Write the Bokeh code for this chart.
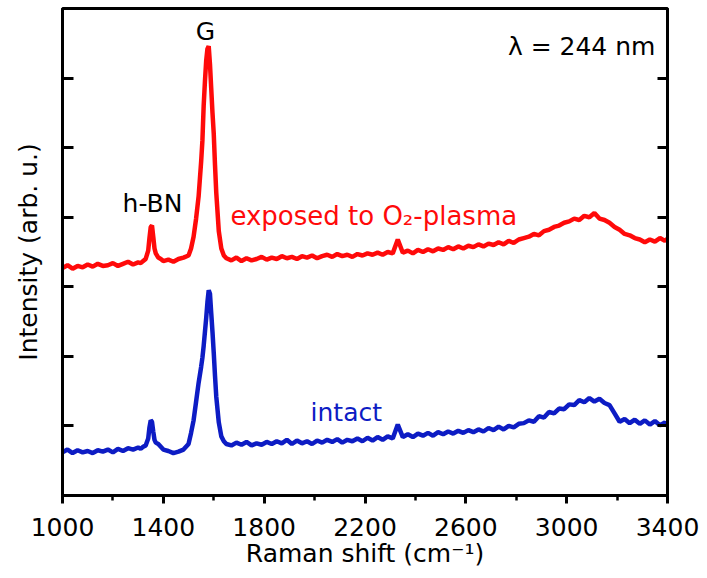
from bokeh.plotting import figure
from bokeh.models import Range1d, FixedTicker, LinearAxis
from bokeh.core.properties import value
from bokeh.embed import file_html
from bokeh.resources import INLINE

# Raman shift (cm^-1), shared sampling for both spectra
shift = [
    1000, 1020, 1040, 1060, 1080, 1100, 1120, 1140, 1160, 1180,
    1200, 1220, 1240, 1260, 1280, 1300, 1310, 1320, 1330, 1340,
    1345, 1350, 1355, 1360, 1365, 1370, 1380, 1390, 1400, 1420,
    1440, 1460, 1480, 1500, 1510, 1520, 1530, 1540, 1550, 1555,
    1560, 1565, 1570, 1575, 1580, 1585, 1590, 1595, 1600, 1605,
    1610, 1620, 1630, 1640, 1650, 1670, 1690, 1710, 1730, 1750,
    1770, 1790, 1810, 1830, 1850, 1870, 1890, 1910, 1930, 1950,
    1970, 1990, 2010, 2030, 2050, 2070, 2090, 2110, 2130, 2150,
    2170, 2190, 2210, 2230, 2250, 2270, 2290, 2310, 2330, 2350,
    2370, 2390, 2410, 2430, 2450, 2470, 2490, 2510, 2530, 2550,
    2570, 2590, 2610, 2630, 2650, 2670, 2690, 2710, 2730, 2750,
    2770, 2790, 2810, 2830, 2850, 2870, 2890, 2910, 2930, 2950,
    2970, 2990, 3010, 3030, 3050, 3070, 3090, 3110, 3130, 3150,
    3170, 3190, 3210, 3230, 3250, 3270, 3290, 3310, 3330, 3350,
    3370, 3390, 3400,
]

# exposed to O2-plasma (offset spectrum, arb. u.)
plasma = [
    3.27, 3.31, 3.26, 3.30, 3.28, 3.32, 3.29, 3.33, 3.30, 3.31,
    3.34, 3.30, 3.33, 3.36, 3.32, 3.35, 3.34, 3.37, 3.40, 3.52,
    3.70, 3.86, 3.88, 3.72, 3.55, 3.48, 3.42, 3.40, 3.37, 3.39,
    3.36, 3.40, 3.42, 3.45, 3.55, 3.72, 3.98, 4.30, 4.80, 5.10,
    5.60, 5.95, 6.25, 6.42, 6.46, 6.20, 5.85, 5.50, 5.20, 4.75,
    4.35, 3.80, 3.55, 3.45, 3.41, 3.38, 3.42, 3.37, 3.41, 3.38,
    3.40, 3.43, 3.39, 3.42, 3.40, 3.44, 3.41, 3.43, 3.40, 3.44,
    3.42, 3.45, 3.41, 3.44, 3.46, 3.43, 3.47, 3.44, 3.46, 3.43,
    3.47, 3.45, 3.48, 3.46, 3.49, 3.46, 3.50, 3.48, 3.68, 3.49,
    3.52, 3.48, 3.53, 3.50, 3.54, 3.51, 3.55, 3.53, 3.57, 3.54,
    3.58, 3.55, 3.59, 3.57, 3.61, 3.58, 3.62, 3.60, 3.64, 3.61,
    3.66, 3.63, 3.68, 3.70, 3.72, 3.76, 3.74, 3.80, 3.82, 3.86,
    3.88, 3.92, 3.94, 3.98, 3.96, 4.02, 4.00, 4.06, 3.98, 3.96,
    3.92, 3.86, 3.82, 3.76, 3.74, 3.70, 3.68, 3.64, 3.68, 3.65,
    3.70, 3.66, 3.69,
]

# intact
intact = [
    0.62, 0.66, 0.61, 0.65, 0.62, 0.64, 0.61, 0.65, 0.63, 0.66,
    0.62, 0.67, 0.64, 0.68, 0.66, 0.69, 0.67, 0.70, 0.72, 0.82,
    0.98, 1.08, 1.06, 0.92, 0.80, 0.76, 0.74, 0.70, 0.66, 0.64,
    0.61, 0.63, 0.66, 0.74, 0.90, 1.08, 1.35, 1.62, 1.85, 1.98,
    2.15, 2.35, 2.55, 2.78, 2.95, 2.90, 2.62, 2.35, 2.05, 1.72,
    1.42, 1.05, 0.85, 0.78, 0.74, 0.72, 0.76, 0.73, 0.77, 0.72,
    0.75, 0.73, 0.77, 0.74, 0.78, 0.75, 0.80, 0.74, 0.79, 0.75,
    0.78, 0.74, 0.79, 0.76, 0.80, 0.77, 0.81, 0.76, 0.80, 0.78,
    0.82, 0.78, 0.83, 0.79, 0.84, 0.80, 0.85, 0.82, 1.02, 0.84,
    0.88, 0.84, 0.89, 0.86, 0.90, 0.86, 0.91, 0.88, 0.92, 0.89,
    0.93, 0.90, 0.94, 0.91, 0.95, 0.92, 0.97, 0.94, 0.99, 0.95,
    1.00, 0.98, 1.03, 1.04, 1.08, 1.06, 1.14, 1.12, 1.20, 1.18,
    1.25, 1.24, 1.31, 1.30, 1.37, 1.34, 1.40, 1.35, 1.39, 1.33,
    1.30, 1.18, 1.06, 1.10, 1.04, 1.09, 1.03, 1.08, 1.02, 1.07,
    1.01, 1.05, 1.00,
]

x_major = [1000, 1400, 1800, 2200, 2600, 3000, 3400]
x_minor = [1200, 1600, 2000, 2400, 2800, 3200]
y_ticks = [1, 2, 3, 4, 5, 6]

RED = "#ff0a0a"
BLUE = "#0d1cc4"
FONT = "DejaVu Sans"

p = figure(width=699, height=570, output_backend="svg", toolbar_location=None,
           x_range=Range1d(1000, 3400), y_range=Range1d(0, 7),
           min_border_left=62, min_border_right=32, min_border_top=8,
           min_border_bottom=73)
p.background_fill_color = "white"
p.border_fill_color = "white"
p.outline_line_color = "black"
p.outline_line_width = 3
p.xgrid.visible = False
p.ygrid.visible = False

n = min(len(shift), len(plasma), len(intact))
p.line(shift[:n], intact[:n], line_color=BLUE, line_width=4.5)
p.line(shift[:n], plasma[:n], line_color=RED, line_width=4.5)

# x axis
xa = p.xaxis[0]
xa.ticker = FixedTicker(ticks=x_major, minor_ticks=x_minor)
xa.axis_line_width = 3
xa.major_tick_line_width = 3
xa.minor_tick_line_width = 2.5
xa.major_tick_in = 0
xa.major_tick_out = 8
xa.minor_tick_in = 0
xa.minor_tick_out = 5
xa.major_label_text_font = FONT
xa.major_label_text_font_size = "25px"
xa.major_label_text_color = "black"
xa.major_label_standoff = 14
xa.axis_label = "Raman shift (cm\u207b\u00b9)"
xa.axis_label_text_font = FONT
xa.axis_label_text_font_size = "25px"
xa.axis_label_text_font_style = "normal"
xa.axis_label_text_color = "black"
xa.axis_label_standoff = 0

# left y axis
ya = p.yaxis[0]
ya.ticker = FixedTicker(ticks=y_ticks, minor_ticks=[])
ya.axis_line_width = 3
ya.major_tick_line_width = 3
ya.major_tick_in = 11
ya.major_tick_out = 0
ya.minor_tick_in = 0
ya.minor_tick_out = 0
ya.major_label_overrides = {t: "" for t in y_ticks}
ya.major_label_text_font_size = "1px"
ya.major_label_standoff = 0
ya.axis_label = "Intensity (arb. u.)"
ya.axis_label_text_font = FONT
ya.axis_label_text_font_size = "25px"
ya.axis_label_text_font_style = "normal"
ya.axis_label_text_color = "black"
ya.axis_label_standoff = 20

# right y axis (ticks only)
ra = LinearAxis(ticker=FixedTicker(ticks=y_ticks, minor_ticks=[]))
ra.axis_line_width = 3
ra.major_tick_line_width = 3
ra.major_tick_in = 10
ra.major_tick_out = 0
ra.minor_tick_in = 0
ra.minor_tick_out = 0
ra.major_label_overrides = {t: "" for t in y_ticks}
ra.major_label_text_font_size = "1px"
p.add_layout(ra, "right")

# annotations
p.text(x=[1567], y=[6.67], text=["G"], text_font=value(FONT),
       text_font_size="25px", text_color="black",
       text_align="center", text_baseline="middle")
p.text(x=[1357], y=[4.2], text=["h-BN"], text_font=value(FONT),
       text_font_size="25px", text_color="black",
       text_align="center", text_baseline="middle")
p.text(x=[1666], y=[4.02], text=["exposed to O\u2082-plasma"], text_font=value(FONT),
       text_font_size="26px", text_color=RED,
       text_align="left", text_baseline="middle")
p.text(x=[1984], y=[1.2], text=["intact"], text_font=value(FONT),
       text_font_size="25px", text_color=BLUE,
       text_align="left", text_baseline="middle")
p.text(x=[3352], y=[6.46], text=["\u03bb = 244 nm"], text_font=value(FONT),
       text_font_size="25px", text_color="black",
       text_align="right", text_baseline="middle")

open("out.html", "w").write(file_html(p, INLINE))
